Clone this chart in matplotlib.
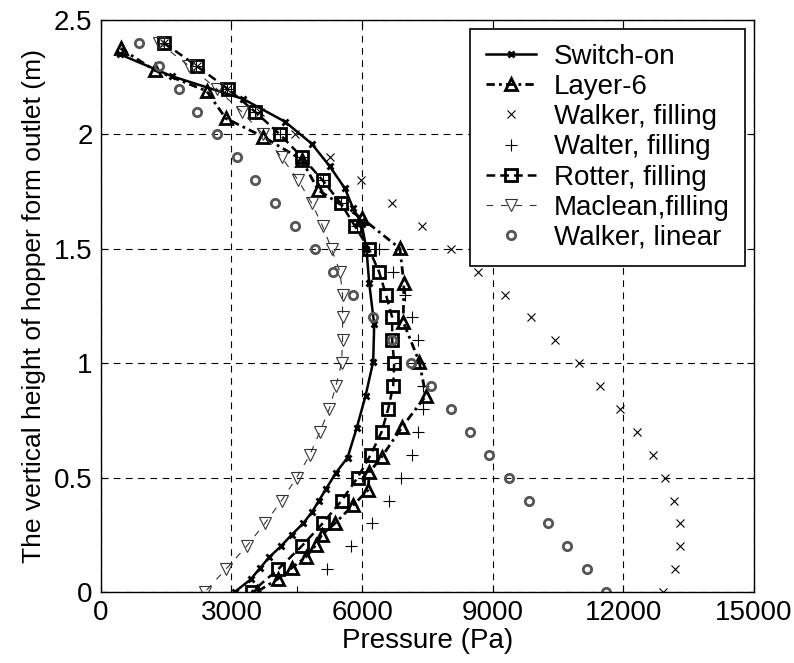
import matplotlib
matplotlib.use("Agg")
import matplotlib.pyplot as plt

plt.rcParams['font.family'] = ['Liberation Sans', 'DejaVu Sans']

# heights (m) for the series given every 0.1 m, top to bottom
h_std = [2.4, 2.3, 2.2, 2.1, 2.0, 1.9, 1.8, 1.7, 1.6, 1.5, 1.4, 1.3, 1.2,
         1.1, 1.0, 0.9, 0.8, 0.7, 0.6, 0.5, 0.4, 0.3, 0.2, 0.1, 0.0]

# Switch-on (simulation)
switch_h = [2.35, 2.255, 2.155, 2.056, 1.96, 1.86, 1.764, 1.677, 1.61, 1.50,
            1.35, 1.17, 1.007, 0.858, 0.715, 0.588, 0.519, 0.45, 0.40, 0.35,
            0.30, 0.25, 0.20, 0.152, 0.104, 0.055, 0.0]
switch_p = [440, 1624, 3269, 4226, 4840, 5260, 5605, 5795, 5988, 6100,
            6163, 6278, 6255, 6080, 5873, 5667, 5391, 5170, 5010, 4850,
            4647, 4380, 4135, 3866, 3652, 3440, 3071]

# Layer-6 (simulation)
layer_h = [2.376, 2.28, 2.19, 2.07, 1.99, 1.89, 1.757, 1.633, 1.502, 1.349,
           1.181, 1.007, 0.858, 0.722, 0.59, 0.523, 0.446, 0.38, 0.30, 0.249,
           0.205, 0.152, 0.105, 0.057, 0.0]
layer_p = [452, 1240, 2428, 2871, 3729, 4610, 4992, 6000, 6867, 6960,
           6944, 7312, 7466, 6921, 6448, 6163, 6140, 5797, 5374, 5070,
           4940, 4703, 4380, 4063, 3575]

walker_fill = [1450, 2200, 2900, 3650, 4456, 5260, 5972, 6677, 7366, 8033,
               8667, 9280, 9877, 10429, 10973, 11462, 11922, 12312, 12672,
               12948, 13163, 13307, 13307, 13192, 12915]
walter_fill = [1440, 2190, 2900, 3540, 4110, 4630, 5100, 5510, 5880, 6393,
               6702, 6984, 7136, 7290, 7312, 7389, 7389, 7290, 7136, 6898,
               6621, 6220, 5750, 5184, 4502]
rotter_fill = [1447, 2197, 2910, 3538, 4113, 4624, 5092, 5506, 5834, 6156,
               6389, 6548, 6691, 6691, 6737, 6714, 6599, 6448, 6197, 5896,
               5531, 5092, 4610, 4074, 3461]
maclean_fill = [1340, 2021, 2658, 3232, 3729, 4150, 4533, 4840, 5092, 5298,
                5490, 5551, 5551, 5551, 5528, 5398, 5245, 5030, 4801, 4496,
                4151, 3767, 3347, 2871, 2389]
walker_lin = [880, 1332, 1792, 2212, 2664, 3117, 3545, 3997, 4456, 4916,
              5322, 5781, 6241, 6691, 7121, 7580, 8033, 8483, 8920, 9365,
              9822, 10268, 10697, 11156, 11600]

fig = plt.figure(figsize=(7.94, 6.63), dpi=100)
ax = fig.add_axes([0.127, 0.107, 0.8226, 0.8628])

ax.plot(switch_p, switch_h, '-', color='k', lw=1.8, marker='x', ms=5,
        mew=2.0, label='Switch-on')
ax.plot(layer_p, layer_h, color='k', lw=2.0, marker='^', ms=8.5,
        mew=2.0, mfc='none', dashes=(3, 1.5, 1, 1.5), label='Layer-6')
ax.plot(walker_fill, h_std, 'x', color='k', ms=6, mew=0.8,
        label='Walker, filling')
ax.plot(walter_fill, h_std, '+', color='k', ms=8, mew=0.8,
        label='Walter, filling')
ax.plot(rotter_fill, h_std, color='k', lw=1.8, marker='s', ms=8,
        mew=2.0, mfc='none', dashes=(3.5, 2), label='Rotter, filling')
ax.plot(maclean_fill, h_std, '--', color='#333333', lw=0.8, marker='v',
        ms=9, mew=0.8, mfc='none', dashes=(6, 7), label='Maclean,filling')
ax.plot(walker_lin, h_std, 'o', color='#555555', ms=6, mew=2.0,
        mfc='none', label='Walker, linear')

ax.set_xlim(0, 15000)
ax.set_ylim(0, 2.5)
ax.set_xticks([0, 3000, 6000, 9000, 12000, 15000])
ax.set_yticks([0, 0.5, 1, 1.5, 2, 2.5])
ax.set_yticklabels(['0', '0.5', '1', '1.5', '2', '2.5'])
ax.grid(True, color='k', ls=(0, (6, 5)), lw=0.8)
ax.tick_params(direction='in', top=True, right=True, length=5,
               labelsize=20, pad=6)
for s in ax.spines.values():
    s.set_linewidth(1.0)

ax.set_xlabel('Pressure (Pa)', fontsize=20, labelpad=1)
ax.set_ylabel('The vertical height of hopper form outlet (m)', fontsize=19,
              labelpad=6)

leg = ax.legend(loc='upper right', bbox_to_anchor=(0.986, 0.985),
                fontsize=20, fancybox=False, edgecolor='k', framealpha=1,
                handlelength=1.8, handletextpad=0.65, labelspacing=0.15,
                borderpad=0.55, borderaxespad=0)
leg.get_frame().set_linewidth(1.2)

fig.savefig('out.png', dpi=100)
